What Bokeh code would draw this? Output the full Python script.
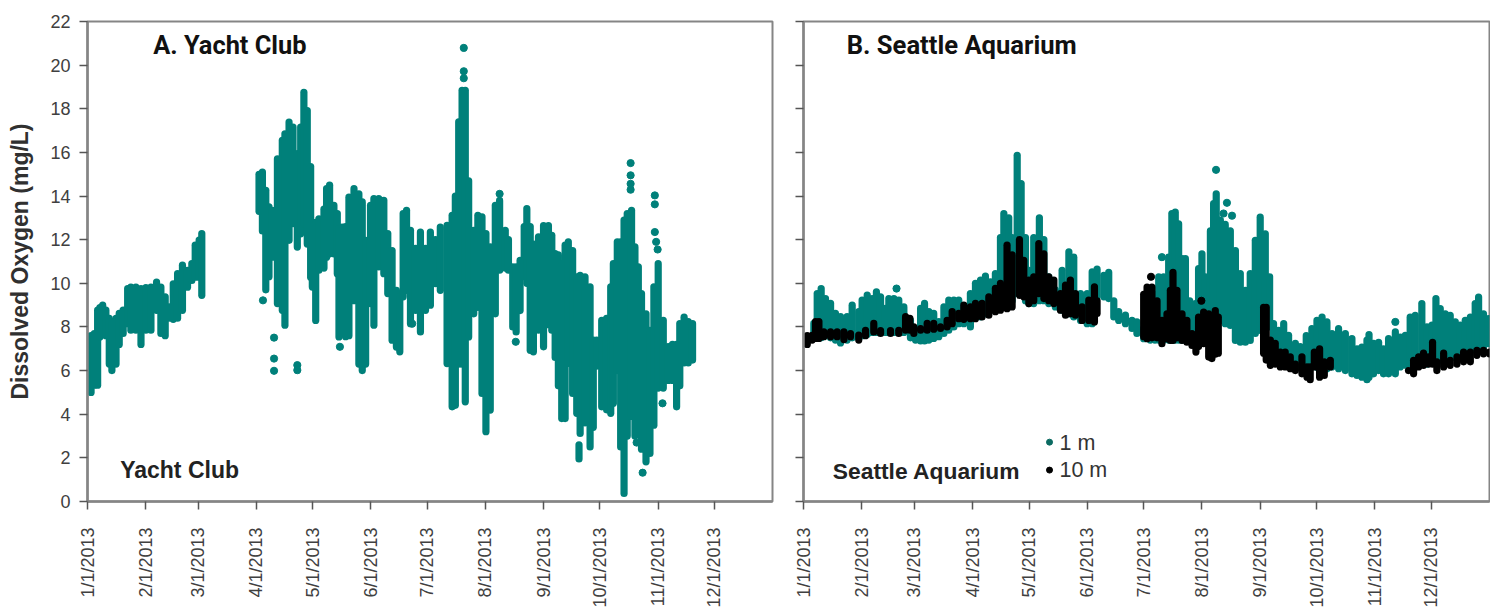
from bokeh.plotting import figure
from bokeh.layouts import row
from bokeh.models import FixedTicker, Range1d, Label, ColumnDataSource
from bokeh.embed import file_html
from bokeh.resources import INLINE

tick_days = [0, 31, 59, 90, 120, 151, 181, 212, 243, 273, 304, 334]
tick_labels = ["1/1/2013", "2/1/2013", "3/1/2013", "4/1/2013", "5/1/2013", "6/1/2013",
               "7/1/2013", "8/1/2013", "9/1/2013", "10/1/2013", "11/1/2013", "12/1/2013"]
y_ticks = list(range(0, 23, 2))

# Panel A, Yacht Club: range of the daily readings (day of year, lowest, highest)
yc_day = [0.1,1.9,3.6,5.4,6.6,8.1,9.8,11.6,13,15.2,16.9,19,21.4,23.1,25.8,28.5,31.1,33.8,36.8,39.1,41.4,43.5,45.7,48,50.6,53.3,55.6,57.4,59.5,60.9,
          91.4,93.2,95,96.7,98.5,101.2,103.8,105.2,107.4,109.5,111.8,113.6,115.3,117.1,118.9,
          119.8,121.6,123.3,126,127.4,129,131.3,133.1,134,135.7,137.5,139.3,142,144.6,146.4,148.2,150.8,152.6,155.2,157.9,160,162.3,164.6,166.4,168.2,170,172.1,174.8,177.4,180.1,182.7,185.4,188,191.6,194.3,196,197.8,199.6,201.3,203.1,205.8,208,210.2,212.3,214.6,217.3,219.6,
          222.6,224.3,226.6,228.4,230.5,232.7,234.1,235.9,237.6,240.3,243,245.6,247.4,249.2,250.9,252.7,254.5,256.2,258.5,260.7,261.9,262.5,265.1,267.8,269.5,271.3,274,276.6,278.8,280.2,282.3,284.1,285.9,287.6,289.9,291.7,293.5,295.2,297.6,299.7,301.8,304.1,306.8,309.4,311.7,313.9,315.6,317.9,320.1,322.4]
yc_low = [5.1,5.0,5.33,5.33,7.54,7.7,7.6,6.3,6.0,6.3,7.2,7.7,8.15,7.85,7.85,7.2,7.85,7.85,8.76,7.7,7.6,8.4,8.35,8.4,8.76,9.82,10.13,10.28,10.28,9.45,
          13.3,12.4,9.7,10.3,11.2,9.07,8.76,8.08,11.97,12.73,11.66,12.27,12.73,11.8,10.28,
          9.83,8.3,10.6,10.7,11.2,11.35,11.35,10.44,7.54,7.7,7.55,7.6,9.2,6.3,6.0,6.3,9.07,8.08,10.75,10.44,9.53,7.39,7.08,6.86,9.38,9.68,8.15,8.76,7.77,8.76,9.0,9.98,9.68,6.32,4.34,4.41,6.3,6.3,4.57,7.54,8.6,8.9,4.95,3.2,4.19,8.6,10.6,
          10.7,10.6,8.0,7.77,8.75,10.3,10.0,6.93,6.86,7.85,7.09,8.1,7.85,6.6,5.3,3.8,3.8,6.33,4.95,4.04,1.95,3.12,3.6,2.5,3.4,6.2,4.34,4.2,4.04,4.5,6.0,2.5,0.37,3.0,3.9,3.0,3.3,2.4,1.82,2.2,3.5,5.2,5.2,5.55,5.55,4.34,5.3,6.35,6.35,6.48]
yc_high = [7.55,7.6,7.7,8.77,8.89,9.0,8.77,8.4,8.25,8.4,8.62,8.77,9.76,9.83,9.83,9.76,9.8,9.83,10.06,9.83,9.38,8.92,9.98,10.44,10.83,10.6,10.9,11.75,11.98,12.28,
           15.0,15.1,14.26,13.5,13.35,15.7,16.55,16.85,17.39,17.16,15.94,17.16,18.75,17.92,15.35,
           12.3,12.8,12.96,13.4,14.34,14.5,13.57,13.2,12.5,12.58,12.6,13.95,14.34,14.1,13.73,11.97,13.57,13.88,13.88,13.8,12.28,11.5,9.68,9.38,13.2,13.35,12.43,11.6,12.35,11.6,12.35,12.0,12.58,12.66,13.12,14.0,17.4,18.85,18.85,14.7,12.43,13.12,13.05,12.28,11.67,13.57,13.8,
           12.43,12.0,10.75,10.75,11.05,12.6,13.42,12.6,11.8,12.13,12.65,12.65,12.2,11.36,11.3,10.9,11.75,11.9,11.5,10.3,2.6,10.37,10.3,9.84,7.4,7.4,8.3,8.4,9.84,10.9,11.9,11.9,12.9,13.2,13.35,11.67,10.75,9.53,8.6,7.85,9.84,10.9,8.3,7.1,7.2,7.2,8.15,8.45,8.24,8.15]
# Isolated Yacht Club readings
yc_pt_day = [99.4,99.4,99.4,111.8,111.8,93.5,134.5,173,200.5,200.5,200.5,219.6,228.2,289.4,289.4,289.4,289.4,302.3,302.3,302.3,303,303.8,306.4,295.8,292.6]
yc_pt_val = [7.51,6.55,5.99,6.25,6.02,9.22,7.09,8.15,20.79,19.72,19.4,14.1,7.32,15.51,14.95,14.56,14.29,14.03,13.62,12.35,11.9,11.55,4.5,1.32,2.7]

# Panel B, Seattle Aquarium, 1 m
sa1_day = [5.5,7.3,9.4,11.7,14.4,17,19.7,23.2,25.9,29.4,31.2,33.9,36.5,38.8,41,43.6,45.4,48.1,50.7,53.4,56.9,59.6,62.3,64.4,66.7,69.3,72,74.7,77.3,80,82.6,85.3,88.8,91.5,94.2,96.8,99.5,102.1,104.8,106.6,109.2,111,113.7,115.8,118.1,119.9,122.5,125.5,127.9,130.5,134,137.6,141.2,143.8,147.4,150.9,153.6,156.2,159.8,162.4,165.1,167.7,171.3,174.8,177.4,181,
           184.5,187,189,191.6,194.3,196,197.8,199.6,201.4,203.2,205.5,208.5,210.2,212,213.8,216.5,218.2,219.6,221.8,224.4,227.1,229.8,232.4,235.1,237.7,240.4,243,245.7,248,250.1,252.8,255.5,258.1,261.7,264.3,267.5,270.5,273.2,275.9,278.5,281.2,284.7,288.3,291.8,294.5,297.1,299.8,300.9,303.3,306,308.6,311.3,314.9,317.5,320.2,322.8,325.5,329,331.7,334.4,336.5,338.8,341.5,344.1,346.8,349.4,352.1,354.8,357.4,359.2,361.8,364.5]
sa1_low = [7.7,7.6,7.5,7.6,7.5,7.4,7.27,7.4,7.5,7.5,7.6,7.65,7.75,7.75,7.75,7.75,7.75,7.75,7.75,7.75,7.5,7.4,7.36,7.36,7.4,7.47,7.55,7.7,7.85,8.0,8.15,8.15,8.0,8.46,8.46,8.6,8.77,8.9,9.07,9.07,9.2,9.2,9.53,9.53,9.2,9.07,9.07,9.2,9.2,9.07,8.92,8.77,8.6,8.46,8.3,8.15,8.15,9.38,9.38,9.3,8.46,8.3,8.15,7.93,7.7,7.46,
           7.4,7.4,7.4,7.4,7.4,7.4,7.4,7.4,7.4,7.4,7.4,7.4,7.4,7.6,7.6,8.15,8.15,8.15,8.3,8.15,8.07,7.38,7.3,7.3,7.38,7.7,7.84,7.84,8.0,7.23,6.47,6.3,6.3,6.15,6.15,6.17,6.3,6.15,6.15,6.09,6.17,6.09,6.0,5.85,5.78,5.7,5.58,5.7,5.85,6.0,5.85,5.85,5.85,6.17,6.25,6.3,6.3,6.3,6.3,6.47,6.47,6.47,6.47,6.6,6.6,6.77,6.77,6.93,6.93,7.0,7.08,7.23]
sa1_high = [8.16,9.53,9.76,9.3,9.08,8.62,8.47,8.47,9.0,8.7,9.23,9.46,9.3,9.61,9.38,8.85,9.3,9.3,9.23,8.92,8.3,7.85,8.85,9.08,8.7,8.62,8.24,8.92,9.23,9.23,9.23,8.9,9.53,10.0,10.15,10.33,10.07,10.45,12.1,13.2,13.0,12.1,15.87,14.57,12.1,10.6,12.1,13.0,12.0,10.3,9.7,10.6,11.44,11.2,9.53,9.53,10.53,10.65,10.37,10.5,9.2,8.7,8.54,8.3,8.23,7.92,
            9.0,9.5,10.3,10.3,11.2,13.2,13.26,12.73,11.13,11.13,9.2,9.07,10.67,11.35,10.3,12.4,13.65,14.1,12.9,12.7,12.4,11.5,10.45,9.68,10.45,11.97,13.03,12.27,10.3,8.15,7.85,8.15,7.62,7.25,7.1,7.6,7.92,8.3,8.45,8.23,7.7,7.92,7.7,7.47,7.0,7.08,7.4,7.65,7.25,7.3,7.0,7.47,7.77,7.54,7.62,8.45,8.53,9.07,8.0,8.08,9.3,8.84,8.6,8.53,8.23,8.08,8.3,8.45,9.07,9.37,8.6,8.38]
sa1_pt_day = [49.5,219.5,225.3,223.5,228,190.7,314.9]
sa1_pt_val = [9.76,15.2,13.69,13.2,13.1,11.2,8.23]

# Panel B, Seattle Aquarium, 10 m
sa10_day = [0,2,4.6,6.4,8.2,10.8,14.4,17.9,21.5,25,29.4,33,37.4,41,46.3,50.7,54.3,56.6,58.7,62.3,65.8,69.3,72.9,76.4,79.1,82.6,85.3,88.8,91.5,95,98.6,102.1,104.8,108.3,111,114.9,117.2,119.9,122.5,125.2,127.9,130.5,133.2,136.7,139.4,142,144.7,148.2,151.8,154.8,156.2,
            181,182.8,185.4,188.1,190.7,193.4,195.2,196.6,198.7,201.4,204,206.7,208.8,210.2,212.9,215.6,217.3,219.1,220.7,
            244.8,246.2,248.4,251,253.7,256.3,259,261.7,265.2,267.9,269.6,271.8,274.6,277.1,280.3,
            321.9,324.6,327.3,329.9,332.6,334.7,337,340.6,344.1,347.7,351.2,354.8,358.3,361.8,365]
sa10_low = [7.24,7.2,7.4,7.47,7.47,7.55,7.55,7.55,7.42,7.55,7.4,7.6,7.77,7.7,7.7,7.7,7.85,7.85,7.7,7.85,7.85,7.9,8.0,8.0,8.15,8.38,8.35,8.38,8.38,8.46,8.54,8.7,8.77,8.84,8.92,9.45,9.38,9.07,9.2,9.53,9.3,9.2,9.07,8.77,8.54,8.6,8.54,8.3,8.3,8.23,8.62,
            7.55,7.46,7.5,7.5,7.23,7.46,7.38,7.38,7.5,7.38,7.3,7.15,6.85,7.1,7.23,6.62,6.55,6.75,6.8,
            6.8,6.48,6.24,6.3,6.17,6.17,6.09,6.0,5.85,5.7,5.58,6.17,5.7,5.78,6.17,
            6.0,5.85,6.17,6.24,6.3,6.3,6.0,6.17,6.24,6.3,6.4,6.4,6.7,6.77,6.77]
sa10_high = [7.4,7.6,7.62,8.24,8.24,7.78,7.78,7.78,7.78,7.7,7.63,7.85,8.16,7.83,7.83,7.85,8.47,8.4,8.0,7.93,8.16,8.16,7.93,8.3,8.7,8.62,9.0,8.92,9.08,9.08,9.38,9.77,10.0,11.75,11.3,12.0,11.05,10.15,10.3,11.82,11.35,10.3,10.15,9.53,9.92,10.15,9.53,8.92,9.23,9.84,9.2,
             9.5,9.83,9.83,9.2,8.3,8.6,9.68,10.5,9.68,8.6,8.3,7.7,7.54,8.45,8.68,8.6,8.15,8.75,8.45,
             8.9,8.9,7.4,7.25,6.85,6.85,6.63,6.3,6.63,6.17,6.17,6.85,7.0,6.4,6.47,
             6.0,6.47,6.63,6.8,6.63,7.3,6.4,6.8,6.47,6.63,6.85,6.85,6.93,6.93,6.85]
sa10_pt_day = [184.9,211.7]
sa10_pt_val = [10.3,9.2]

series_names = ["1 m", "10 m"]
TEAL = "#00807A"
AXIS = "#858585"
TEXT = "#404040"
FONT = "Liberation Sans"
HEAD = "Roboto"
W = 7.2


def panel(width, left, right, ylabel):
    p = figure(width=width, height=610, x_range=Range1d(0, 365), y_range=Range1d(0, 22),
               output_backend="svg", toolbar_location=None,
               min_border_left=left, min_border_right=right, min_border_top=21, min_border_bottom=108)
    p.grid.visible = False
    p.outline_line_color = AXIS
    p.outline_line_width = 2
    p.background_fill_color = "white"
    xa, ya = p.xaxis[0], p.yaxis[0]
    xa.ticker = FixedTicker(ticks=tick_days)
    xa.major_label_overrides = dict(zip(tick_days, tick_labels))
    xa.major_label_orientation = 1.5708
    xa.major_label_standoff = 18
    ya.ticker = FixedTicker(ticks=y_ticks)
    for a in (xa, ya):
        a.axis_line_color = AXIS
        a.axis_line_width = 2.5
        a.major_tick_line_color = "#555555"
        a.major_tick_line_width = 1.5
        a.major_tick_out = 8
        a.major_tick_in = 0
        a.minor_tick_line_color = None
        a.major_label_text_font = FONT
        a.major_label_text_font_size = "18px"
        a.major_label_text_color = TEXT
    if ylabel:
        ya.axis_label = ylabel
        ya.axis_label_text_font = FONT
        ya.axis_label_text_font_style = "bold"
        ya.axis_label_text_font_size = "23px"
        ya.axis_label_text_color = "#303030"
        ya.axis_label_standoff = 14
        ya.major_label_standoff = 9
    else:
        ya.major_label_overrides = {t: "" for t in y_ticks}
        ya.major_label_standoff = 0
    return p


def band(p, days, low, high, pt_d, pt_v, color):
    src = ColumnDataSource(dict(x=days, lo=low, hi=high))
    p.segment("x", "lo", "x", "hi", source=src, line_color=color, line_width=W, line_cap="round")
    p.scatter(pt_d, pt_v, size=W, color=color, marker="circle")


def note(p, x, y, text, font, size, style, color):
    p.add_layout(Label(x=x, y=y, text=text, text_font=font, text_font_size=size,
                       text_font_style=style, text_color=color, text_baseline="middle"))


a = panel(790, 87, 18, "Dissolved Oxygen (mg/L)")
band(a, yc_day, yc_low, yc_high, yc_pt_day, yc_pt_val, TEAL)
note(a, 35.0, 20.94, "A. Yacht Club", HEAD, "25.4px", "bold", "#111111")
note(a, 17.4, 1.44, "Yacht Club", FONT, "23px", "bold", "#222222")

b = panel(700, 13, 1, None)
band(b, sa1_day, sa1_low, sa1_high, sa1_pt_day, sa1_pt_val, TEAL)
band(b, sa10_day, sa10_low, sa10_high, sa10_pt_day, sa10_pt_val, "black")
note(b, 23.0, 20.94, "B. Seattle Aquarium", HEAD, "25.6px", "bold", "#111111")
note(b, 15.6, 1.42, "Seattle Aquarium", FONT, "22.8px", "bold", "#222222")
b.scatter([130.9], [2.72], size=6, color="#0B6B62", marker="circle")
b.scatter([130.9], [1.44], size=6, color="black", marker="circle")
note(b, 136.2, 2.68, series_names[0], FONT, "21.5px", "normal", "#333333")
note(b, 136.2, 1.44, series_names[1], FONT, "21.5px", "normal", "#333333")

layout = row(a, b, spacing=0)
open("out.html", "w").write(file_html(layout, INLINE))
